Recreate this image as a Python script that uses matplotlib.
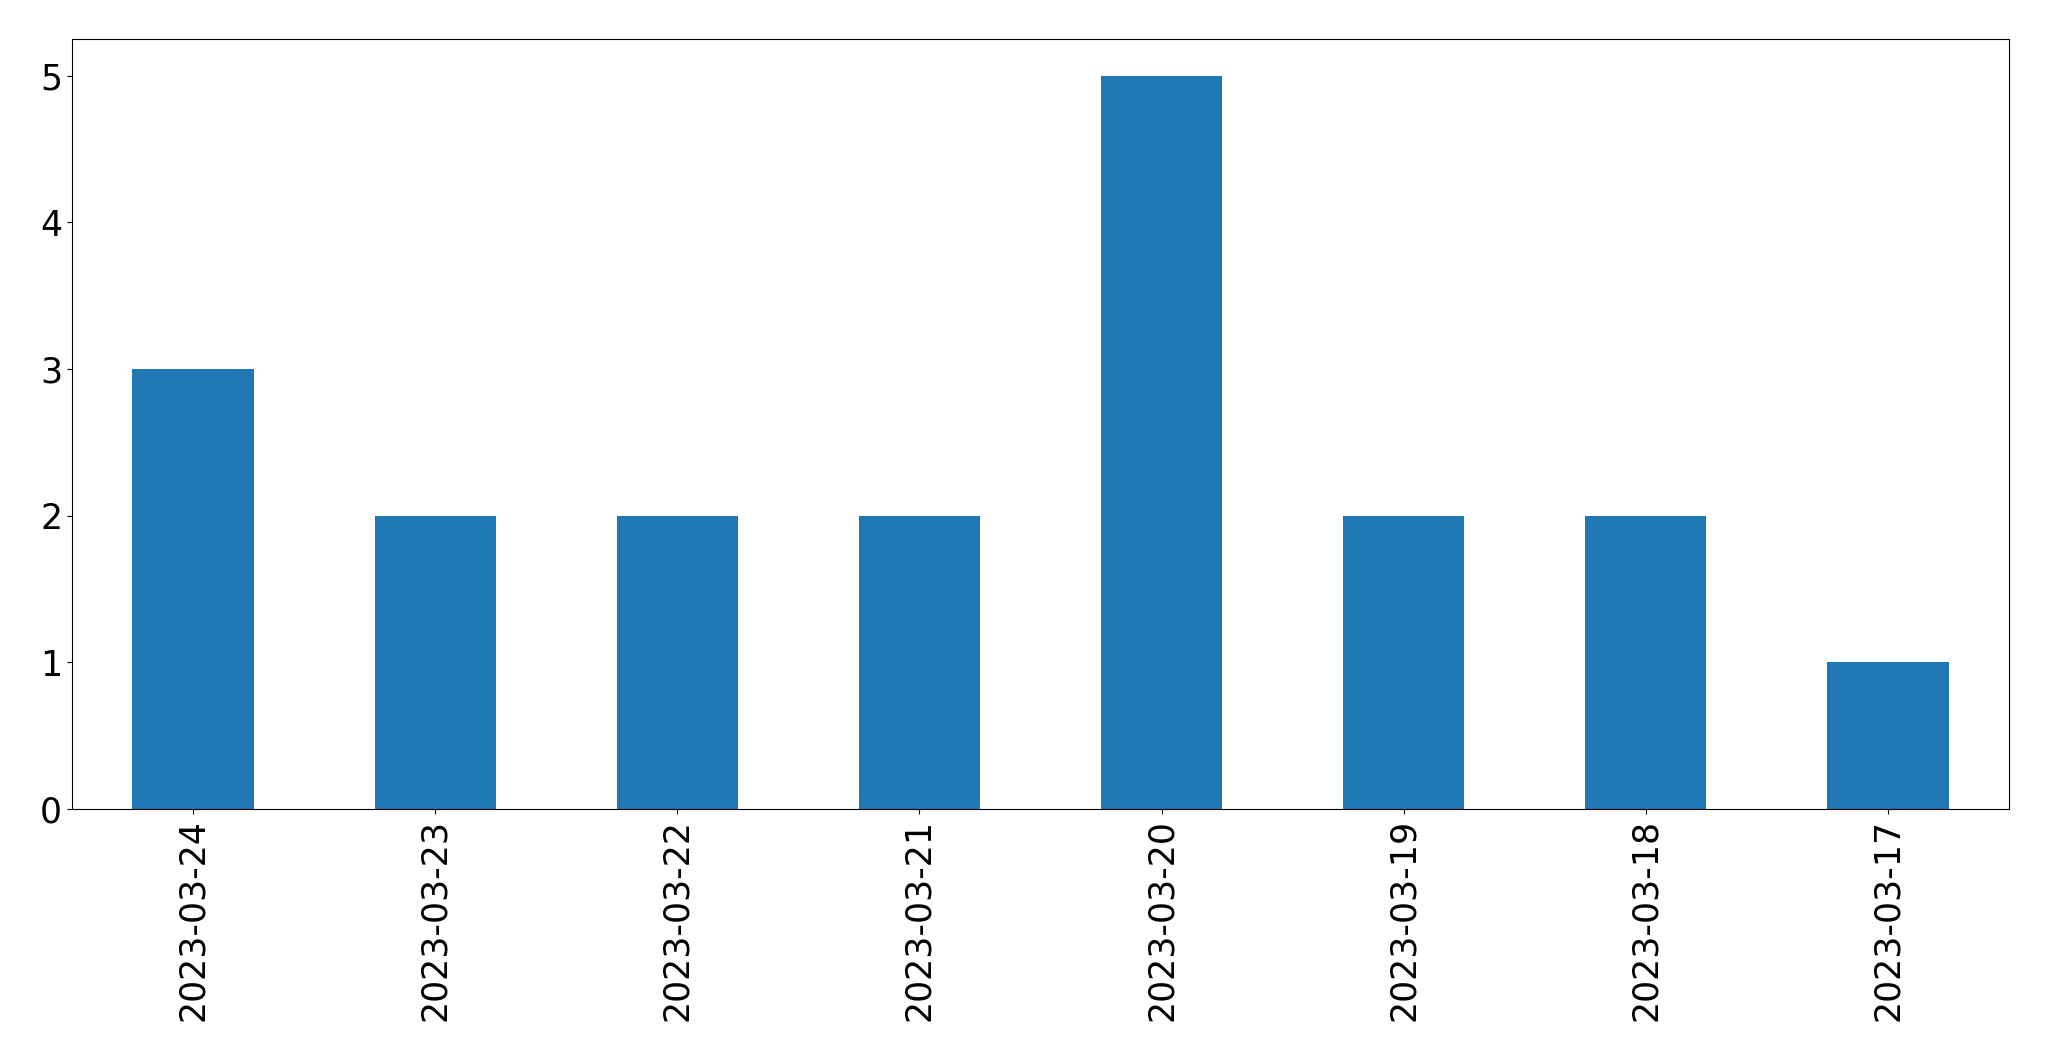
import matplotlib
matplotlib.use('Agg')
import matplotlib.pyplot as plt
import pandas as pd

# Counts per day, newest first (as in the original plot)
dates = ['2023-03-24', '2023-03-23', '2023-03-22', '2023-03-21',
         '2023-03-20', '2023-03-19', '2023-03-18', '2023-03-17']
counts = [3, 2, 2, 2, 5, 2, 2, 1]

series = pd.Series(counts, index=dates)

fig, ax = plt.subplots(figsize=(20.49, 10.61), dpi=100)
fig.subplots_adjust(left=0.0351, right=0.9805, top=0.9632, bottom=0.2375)
series.plot(kind='bar', ax=ax, fontsize=25)
plt.savefig('out.png', dpi=100)
